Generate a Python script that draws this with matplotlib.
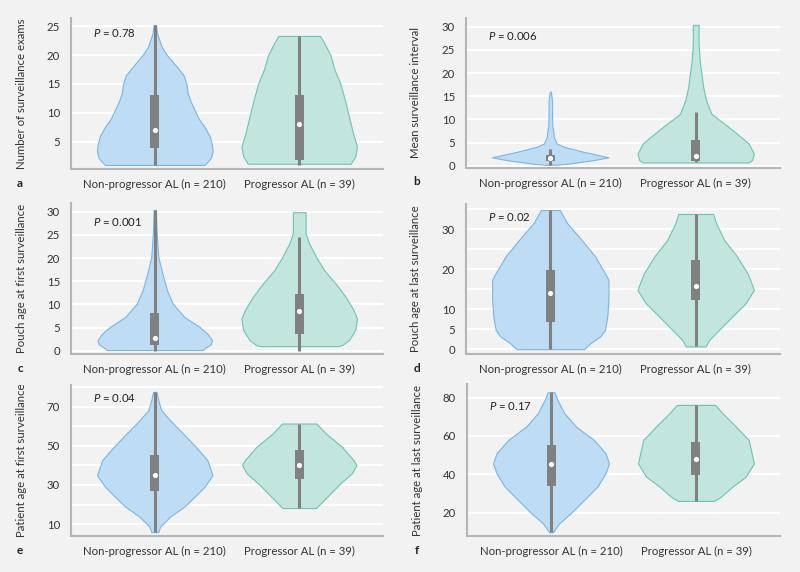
import numpy as np
import matplotlib
matplotlib.use("Agg")
import matplotlib.pyplot as plt

plt.rcParams['font.family'] = ['Lato', 'DejaVu Sans']
plt.rcParams['mathtext.fontset'] = 'custom'
plt.rcParams['mathtext.it'] = 'Lato:italic'
plt.rcParams['mathtext.rm'] = 'Lato'

groups = ["Non-progressor AL (n = 210)", "Progressor AL (n = 39)"]

# violin outlines: value, relative half width
a_non_y = [1.0, 1.5, 2.2, 3.3, 4.5, 6.0, 7.6, 9.0, 10.5, 12.0, 13.4, 15.0, 16.5, 18.0, 20.0, 21.4, 23.7, 25.2]
a_non_w = [0.86, 0.91, 0.97, 1.0, 0.99, 0.95, 0.86, 0.76, 0.69, 0.62, 0.57, 0.55, 0.5, 0.38, 0.21, 0.12, 0.04, 0.02]
a_pro_y = [1.2, 2.5, 4.2, 6.5, 9.4, 12.2, 15.1, 17.5, 20.0, 22.3, 23.3]
a_pro_w = [0.89, 0.97, 1.0, 0.93, 0.86, 0.79, 0.71, 0.61, 0.54, 0.42, 0.36]

b_non_y = [0.2, 0.5, 1.2, 1.8, 2.3, 3.0, 4.1, 4.8, 6.2, 7.6, 8.5, 11.0, 14.0, 16.0]
b_non_w = [0.1, 0.34, 0.74, 1.0, 0.83, 0.57, 0.23, 0.11, 0.06, 0.05, 0.035, 0.03, 0.03, 0.01]
b_pro_y = [0.7, 1.2, 2.6, 4.8, 6.9, 9.1, 11.2, 14.1, 16.9, 19.8, 22.6, 26.2, 28.4, 30.4]
b_pro_w = [0.91, 0.97, 1.0, 0.91, 0.71, 0.49, 0.27, 0.18, 0.13, 0.1, 0.07, 0.05, 0.05, 0.05]

c_non_y = [0.15, 0.5, 1.4, 2.3, 3.7, 5.2, 7.3, 10.2, 13.1, 16.7, 20.3, 26.0, 30.4]
c_non_w = [0.83, 0.86, 0.97, 0.99, 0.91, 0.77, 0.51, 0.31, 0.21, 0.13, 0.06, 0.03, 0.02]
c_pro_y = [1.0, 1.2, 2.3, 4.5, 7.0, 8.8, 11.7, 14.5, 17.4, 20.3, 23.2, 25.3, 27.5, 29.9]
c_pro_w = [0.67, 0.74, 0.86, 0.97, 1.0, 0.94, 0.8, 0.63, 0.43, 0.29, 0.17, 0.11, 0.11, 0.11]

d_non_y = [0.0, 1.5, 3.2, 4.8, 8.2, 12.3, 17.3, 19.0, 23.2, 27.3, 31.5, 34.8]
d_non_w = [0.58, 0.69, 0.86, 0.94, 0.98, 1.0, 1.0, 0.94, 0.77, 0.54, 0.29, 0.16]
d_pro_y = [0.7, 2.3, 4.8, 8.2, 11.5, 14.8, 15.7, 19.0, 23.2, 27.3, 31.5, 33.8]
d_pro_w = [0.17, 0.23, 0.4, 0.63, 0.86, 1.0, 0.98, 0.89, 0.71, 0.49, 0.35, 0.3]

e_non_y = [5.9, 8.6, 13.7, 18.9, 24.0, 29.1, 35.0, 42.7, 49.5, 56.3, 63.2, 68.3, 73.4, 77.6]
e_non_w = [0.06, 0.09, 0.26, 0.51, 0.69, 0.86, 1.0, 0.91, 0.71, 0.49, 0.26, 0.11, 0.06, 0.03]
e_pro_y = [18.2, 20.6, 25.7, 30.8, 35.9, 40.2, 42.7, 49.5, 56.3, 61.4]
e_pro_w = [0.29, 0.37, 0.54, 0.71, 0.91, 0.99, 0.94, 0.74, 0.46, 0.3]

f_non_y = [9.7, 14.4, 19.7, 26.6, 33.6, 40.5, 45.7, 51.0, 57.9, 64.9, 71.8, 78.8, 82.8]
f_non_w = [0.03, 0.14, 0.34, 0.57, 0.8, 0.94, 1.0, 0.94, 0.74, 0.43, 0.23, 0.11, 0.06]
f_pro_y = [26.1, 28.3, 33.6, 38.8, 45.7, 57.9, 64.9, 71.8, 76.2]
f_pro_w = [0.31, 0.43, 0.63, 0.86, 1.0, 0.91, 0.69, 0.46, 0.33]

# box stats: whisker low, q1, median, q3, whisker high
a_box = [[1.0, 4.0, 7.0, 13.1, 25.2], [1.0, 1.9, 8.0, 13.1, 23.3]]
b_box = [[0.2, 1.0, 1.6, 2.4, 3.7], [0.7, 1.1, 2.0, 5.5, 11.6]]
c_box = [[0.0, 1.2, 2.8, 8.2, 30.4], [0.0, 3.7, 8.5, 12.2, 24.5]]
d_box = [[0.0, 6.7, 14.0, 19.7, 34.8], [0.7, 12.3, 15.8, 22.3, 33.8]]
e_box = [[5.9, 27.0, 35.0, 45.3, 77.6], [18.2, 33.0, 40.3, 47.8, 61.4]]
f_box = [[9.7, 33.9, 45.2, 55.3, 82.8], [26.1, 39.7, 48.0, 56.9, 76.2]]

ylabels = ["Number of surveillance exams", "Mean surveillance interval",
           "Pouch age at first surveillance", "Pouch age at last surveillance",
           "Patient age at first surveillance", "Patient age at last surveillance"]
pvals = ["0.78", "0.006", "0.001", "0.02", "0.04", "0.17"]
letters = ["a", "b", "c", "d", "e", "f"]

grid_a = [5, 10, 15, 20, 25]
grid_b = [0, 5, 10, 15, 20, 25, 30]
grid_c = [0, 5, 10, 15, 20, 25, 30]
grid_d = [0, 5, 10, 15, 20, 25, 30, 35]
grid_e = [10, 20, 30, 40, 50, 60, 70, 80]
grid_f = [20, 40, 60, 80]
lab_a = ["5", "10", "15", "20", "25"]
lab_b = ["0", "5", "10", "15", "20", "25", "30"]
lab_c = ["0", "5", "10", "15", "20", "25", "30"]
lab_d = ["0", "5", "10", "", "20", "", "30", ""]
lab_e = ["10", "", "30", "", "50", "", "70", ""]
lab_f = ["20", "40", "60", "80"]

ylims = [(0.3, 26.4), (-0.5, 31.9), (-0.7, 31.9), (-1.2, 36.3), (3.9, 81.1), (7.8, 87.1)]

panels = [
    ((a_non_y, a_non_w), (a_pro_y, a_pro_w), a_box, grid_a, lab_a),
    ((b_non_y, b_non_w), (b_pro_y, b_pro_w), b_box, grid_b, lab_b),
    ((c_non_y, c_non_w), (c_pro_y, c_pro_w), c_box, grid_c, lab_c),
    ((d_non_y, d_non_w), (d_pro_y, d_pro_w), d_box, grid_d, lab_d),
    ((e_non_y, e_non_w), (e_pro_y, e_pro_w), e_box, grid_e, lab_e),
    ((f_non_y, f_non_w), (f_pro_y, f_pro_w), f_box, grid_f, lab_f),
]

# axes rectangles in pixels: left, top, right, bottom
rects = [(71, 18, 383, 169), (466, 18, 780, 168),
         (71, 203, 383, 354), (466, 204, 780, 354),
         (71, 385, 383, 536), (467, 384, 780, 536)]
ptop = [15, 18, 19, 13, 13, 22]

W, H = 800, 572
bg = '#f2f2f2'
fills = ['#bedcf3', '#c2e6dd']
edges = ['#7ab6e3', '#6ec3b2']
boxc = '#808080'

fig = plt.figure(figsize=(8, 5.72), dpi=100, facecolor=bg)

for i, (v1, v2, box, grid, labs) in enumerate(panels):
    l, t, r, b = rects[i]
    ax = fig.add_axes([l / W, 1 - b / H, (r - l) / W, (b - t) / H])
    ax.set_facecolor(bg)
    for k, (vy, vw) in enumerate([v1, v2]):
        hw = 0.4 * np.array(vw)
        ax.fill_betweenx(vy, k - hw, k + hw, facecolor=fills[k], edgecolor=edges[k], lw=0.8, zorder=2)
        lo, q1, med, q3, hi = box[k]
        ax.vlines(k, lo, hi, color=boxc, lw=2.2, zorder=3)
        ax.bar(k, q3 - q1, bottom=q1, width=0.062, color=boxc, zorder=4)
        ax.scatter([k], [med], s=14, color='white', zorder=5, linewidths=0)
    ax.set_xlim(-0.58, 1.58)
    ax.set_ylim(*ylims[i])
    ax.set_yticks(grid, labels=labs)
    ax.set_xticks([0, 1], labels=groups)
    ax.grid(axis='y', color='white', lw=1.5, zorder=1)
    ax.set_axisbelow(True)
    for s in ['top', 'right']:
        ax.spines[s].set_visible(False)
    for s in ['left', 'bottom']:
        ax.spines[s].set_color('#b5b5b5')
        ax.spines[s].set_linewidth(1.5)
    ax.tick_params(length=0, labelsize=8.2, colors='#333333')
    ax.tick_params(axis='x', pad=7)
    ax.tick_params(axis='y', pad=8)
    ax.set_ylabel(ylabels[i], fontsize=8.2, color='#333333')
    ax.yaxis.set_label_coords(-0.142, 0.5)
    ax.text(0.07, 1 - ptop[i] / (b - t), "$P$ = " + pvals[i], transform=ax.transAxes,
            fontsize=8.2, color='#222222', va='center', ha='left')
    lx = 20 if l < 400 else 417
    fig.text(lx / W, 1 - (b + 14) / H, letters[i], fontsize=8.5, fontweight='bold',
             color='#222222', ha='center', va='center')

fig.savefig('out.png', dpi=100, facecolor=bg)
